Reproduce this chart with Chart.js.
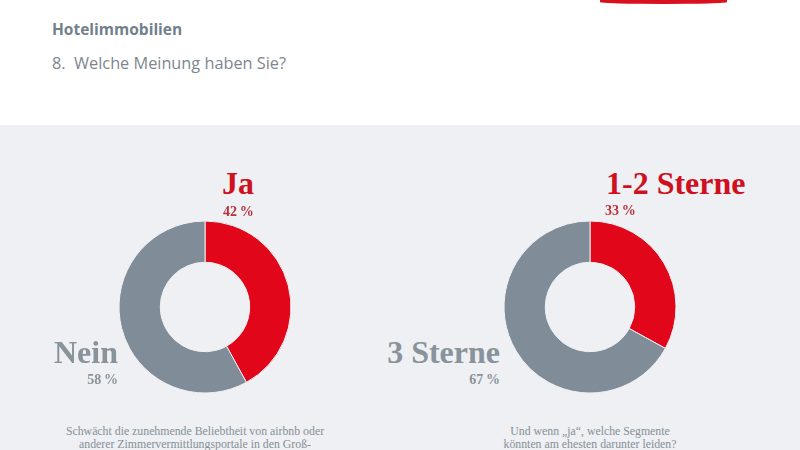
<!DOCTYPE html>
<html>
<head>
  <style>
    body {
        margin: 0;
        width: 800px;
        height: 450px;
        overflow: hidden;
        background: #ffffff;
        position: relative;
        font-family: "Open Sans", sans-serif;
    }
    .panel {
        position: absolute;
        left: 0;
        top: 125px;
        width: 800px;
        height: 325px;
        background: #eef0f3;
    }
    .logo-bar {
        position: absolute;
        left: 600px;
        top: 0px;
        width: 127px;
        height: 4px;
        border-radius: 0 0 50% 50%;
        background: #d9101d;
    }
    .title {
        position: absolute;
        left: 52px;
        top: 18px;
        font-size: 15.5px;
        font-weight: bold;
        color: #71808b;
    }
    .subtitle {
        position: absolute;
        left: 52px;
        top: 52px;
        font-size: 16.3px;
        color: #7d868e;
    }
    canvas {
        position: absolute;
    }
    .lbl {
        position: absolute;
        font-family: "Liberation Serif", serif;
        font-weight: bold;
        white-space: nowrap;
        line-height: 1;
    }
    .big { font-size: 32px; }
    .pct { font-size: 14px; }
    .red { color: #cf1020; }
    .redpct { color: #b8303c; }
    .grey { color: #89939b; }
    .caption {
        position: absolute;
        width: 340px;
        text-align: center;
        font-family: "Liberation Serif", serif;
        font-size: 11.8px;
        line-height: 12.6px;
        color: #868f97;
        white-space: nowrap;
    }
  </style>
</head>
<body>
  <div class="logo-bar"></div>
  <div class="title">Hotelimmobilien</div>
  <div class="subtitle">8.&nbsp; Welche Meinung haben Sie?</div>
  <div class="panel"></div>

  <canvas id="chartLeft" width="180" height="180" style="left:115px; top:217px;"></canvas>
  <canvas id="chartRight" width="180" height="180" style="left:500px; top:217px;"></canvas>

  <div id="labels"></div>

  <script src="https://cdn.jsdelivr.net/npm/chart.js"></script>
  <script>
    // data
    const leftLabels = ['Ja', 'Nein'];
    const leftValues = [42, 58];
    const rightLabels = ['1-2 Sterne', '3 Sterne'];
    const rightValues = [33, 67];
    const leftCaption = ['Schwächt die zunehmende Beliebtheit von airbnb oder',
                         'anderer Zimmervermittlungsportale in den Groß-'];
    const rightCaption = ['Und wenn \u201Eja\u201C, welche Segmente',
                          'könnten am ehesten darunter leiden?'];

    const red = '#e2061b';
    const grey = '#808d99';

    function makeDonut(id, labels, values) {
        return new Chart(document.getElementById(id), {
            type: 'doughnut',
            data: {
                labels: labels,
                datasets: [{
                    data: values,
                    backgroundColor: [red, grey],
                    borderColor: '#eef0f3',
                    borderWidth: 1
                }]
            },
            options: {
                responsive: false,
                animation: false,
                radius: 86,
                cutout: '52%',
                events: [],
                layout: { padding: 0 },
                plugins: {
                    legend: { display: false },
                    tooltip: { enabled: false }
                }
            }
        });
    }

    makeDonut('chartLeft', leftLabels, leftValues);
    makeDonut('chartRight', rightLabels, rightValues);

    // text around the donuts
    const box = document.getElementById('labels');
    function addText(text, cls, x, baseline, alignRight, size) {
        const d = document.createElement('div');
        d.className = 'lbl ' + cls;
        d.textContent = text;
        d.style.top = (baseline - size * 0.89) + 'px';
        if (alignRight) {
            d.style.right = (800 - x) + 'px';
        } else {
            d.style.left = x + 'px';
        }
        box.appendChild(d);
    }
    function pct(v) { return v + '\u2009%'; }

    addText(leftLabels[0], 'big red', 222, 195, false, 32);
    addText(pct(leftValues[0]), 'pct redpct', 223, 217, false, 14);
    addText(leftLabels[1], 'big grey', 118, 364, true, 32);
    addText(pct(leftValues[1]), 'pct grey', 118, 385, true, 14);

    addText(rightLabels[0], 'big red', 606, 195, false, 32);
    addText(pct(rightValues[0]), 'pct redpct', 605, 216, false, 14);
    addText(rightLabels[1], 'big grey', 500, 364, true, 32);
    addText(pct(rightValues[1]), 'pct grey', 500, 385, true, 14);

    function addCaption(lines, cx) {
        const d = document.createElement('div');
        d.className = 'caption';
        d.style.left = (cx - 170) + 'px';
        d.style.top = '425px';
        d.innerHTML = lines.join('<br>');
        box.appendChild(d);
    }
    addCaption(leftCaption, 195);
    addCaption(rightCaption, 590);
  </script>
</body>
</html>
